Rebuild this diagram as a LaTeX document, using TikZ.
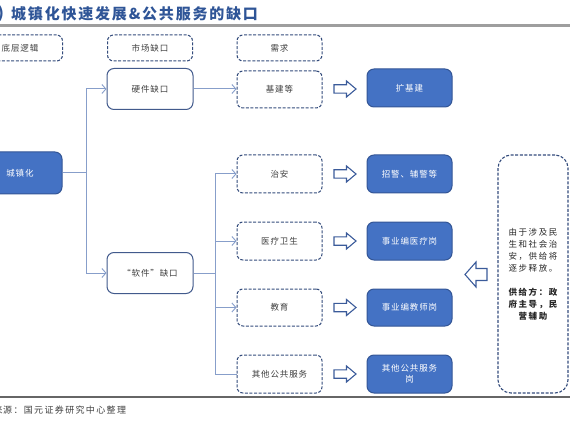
\documentclass[tikz,border=0pt]{standalone}
\usepackage{fontspec}
\setmainfont{Noto Sans CJK SC}
\newfontfamily\boxfont[LetterSpace=10]{Noto Sans CJK SC}
\newfontfamily\sidefont[LetterSpace=18]{Noto Sans CJK SC}
\newfontfamily\titlefont[LetterSpace=12]{Noto Sans CJK SC}
\newfontfamily\srcfont[LetterSpace=15]{Noto Sans CJK SC}
\usetikzlibrary{arrows.meta}
\definecolor{titleblue}{RGB}{47,85,151}
\definecolor{boxblue}{RGB}{68,114,196}
\definecolor{boxborder}{RGB}{52,86,150}
\definecolor{dashcol}{RGB}{52,76,124}
\definecolor{solidcol}{RGB}{66,90,140}
\definecolor{linecol}{RGB}{135,158,202}
\definecolor{hollowcol}{RGB}{59,91,154}
\definecolor{txtgray}{RGB}{64,64,64}
\tikzset{
  basebox/.style={minimum width=85pt, minimum height=38pt, inner sep=1pt, align=center,
    font=\boxfont\fontsize{8.5}{11}\selectfont, text=txtgray, line width=1pt},
  dashbox/.style={basebox, draw=dashcol, dash pattern=on 3pt off 1.6pt, rounded corners=6pt, fill=white},
  headbox/.style={dashbox, minimum height=26pt},
  solidbox/.style={basebox, draw=solidcol, rounded corners=7pt, fill=white, minimum height=41pt},
  bluebox/.style={basebox, draw=boxborder, fill=boxblue, text=white, rounded corners=7pt},
  conn/.style={draw=linecol, line width=1pt},
  barb/.style={-{Straight Barb[length=4pt,width=9pt,line width=0.9pt]}},
  rarrow/.pic={\draw[hollowcol, line width=1.1pt, line join=miter]
    (-11,-4.2) -- (1.5,-4.2) -- (1.5,-8) -- (11,0) -- (1.5,8) -- (1.5,4.2) -- (-11,4.2) -- cycle;},
  larrow/.pic={\draw[hollowcol, line width=1.1pt, line join=miter]
    (11,-6) -- (0,-6) -- (0,-12.5) -- (-11,0) -- (0,12.5) -- (0,6) -- (11,6) -- cycle;}
}
\begin{document}
\begin{tikzpicture}[x=1pt,y=-1pt]
\useasboundingbox (0,0) rectangle (570,422);
\clip (0,0) rectangle (570,422);
% title
\node[anchor=west, inner sep=0, text=titleblue, font=\titlefont\fontsize{15}{18}\selectfont\bfseries] (title) at (11,14) {城镇化快速发展\&公共服务的缺口};
\node[anchor=east, inner sep=0, text=titleblue, font=\fontsize{15}{18}\selectfont\bfseries] (tnum) at (4,14) {)};
\draw[line width=2.5pt, color=black!38] (0,25.5) -- (570,25.5);
% headers
\node[headbox] (h1) at (20,48) {底层逻辑};
\node[headbox] (h2) at (150,48) {市场缺口};
\node[headbox] (h3) at (279.5,48) {需求};
% main nodes
\node[bluebox, minimum width=84pt, minimum height=42pt] (city) at (20,173) {城镇化};
\node[solidbox, minimum width=86pt] (hw) at (150,89) {硬件缺口};
\node[solidbox, minimum width=86pt] (sw) at (150,273) {“软件”缺口};
\node[dashbox, minimum height=37pt] (jj) at (279.5,89.5) {基建等};
\node[dashbox] (za) at (279.5,174) {治安};
\node[dashbox] (yl) at (279.5,241) {医疗卫生};
\node[dashbox, minimum height=37pt] (jy) at (279.5,307.5) {教育};
\node[dashbox] (qt) at (279.5,374) {其他公共服务};
\node[bluebox] (b0) at (409.5,88) {扩基建};
\node[bluebox] (b1) at (409.5,174) {招警、辅警等};
\node[bluebox] (b2) at (409.5,241) {事业编医疗岗};
\node[bluebox, minimum height=37pt] (b3) at (409.5,307.5) {事业编教师岗};
\node[bluebox, text width=70pt] (b4) at (409.5,374) {其他公共服务\\岗};
% side box
\node[draw=dashcol, line width=1.1pt, dash pattern=on 3pt off 1.6pt, rounded corners=13pt,
  minimum width=70pt, minimum height=238pt, inner sep=0, align=center, text=black!85,
  font=\sidefont\fontsize{8.5}{12}\selectfont] (side) at (533,274)
  {由于涉及民\\生和社会治\\安，供给将\\逐步释放。\\[12pt]{\bfseries 供给方：政}\\{\bfseries 府主导，民}\\{\bfseries 营辅助}};
% connectors
\coordinate (j1) at (86,173);
\coordinate (j2) at (215,273);
\draw[conn] (city.east) -- (j1);
\draw[conn, barb] (j1) |- (hw.west);
\draw[conn, barb] (j1) |- (sw.west);
\draw[conn, barb] (hw.east) -- (jj.west |- hw.east);
\draw[conn] (sw.east) -- (j2);
\draw[conn, barb] (j2) |- (za.west);
\draw[conn, barb] (j2) |- (yl.west);
\draw[conn, barb] (j2) |- (jy.west);
\draw[conn] (j2) |- (qt.west);
% hollow arrows
\pic at (345,89) {rarrow};
\pic at (345,174) {rarrow};
\pic at (345,241) {rarrow};
\pic at (345,307.5) {rarrow};
\pic at (345,374) {rarrow};
\pic at (476,274.5) {larrow};
% bottom
\draw[line width=1.6pt, color=black!60] (0,397) -- (570,397);
\node[anchor=east, inner sep=0, text=txtgray, font=\srcfont\fontsize{9}{11}\selectfont] (srcA) at (2.9,410) {来};
\node[anchor=west, inner sep=0, text=txtgray, font=\srcfont\fontsize{9}{11}\selectfont] (src) at (3,410) {源：国元证券研究中心整理};
\end{tikzpicture}
\end{document}
